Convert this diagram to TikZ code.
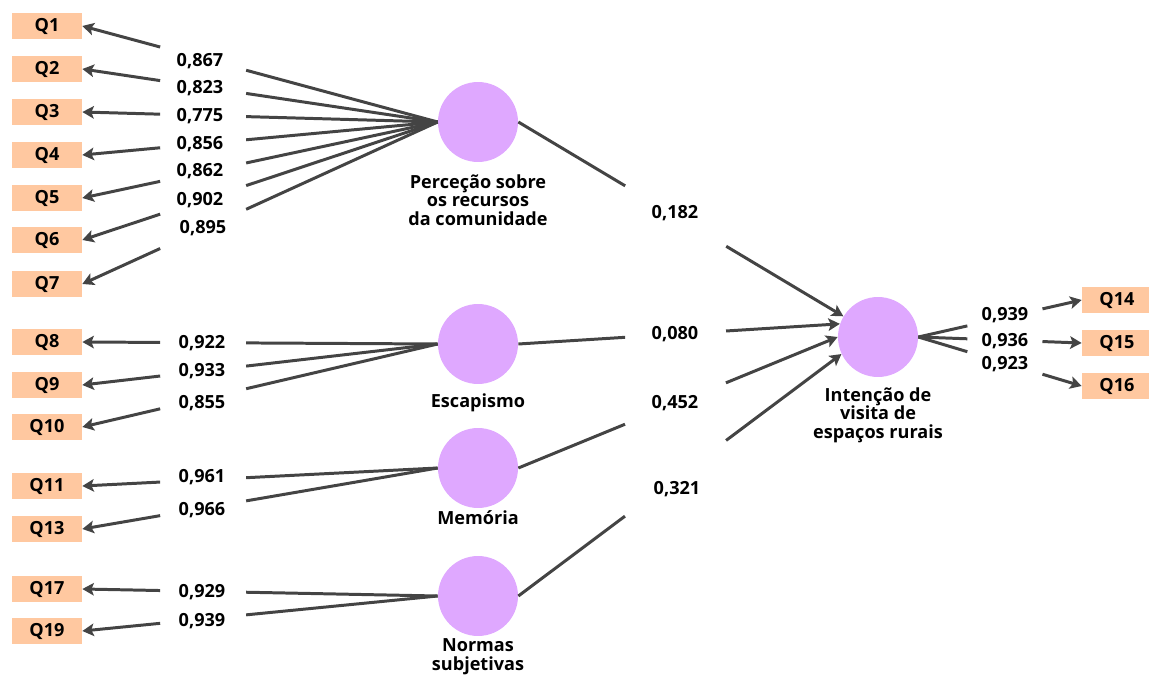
\documentclass[tikz,border=0pt]{standalone}
\usepackage{fontspec}
\setmainfont{Open Sans}
\usetikzlibrary{calc,arrows.meta}
\definecolor{itemorange}{HTML}{FFC8A0}
\definecolor{latentviolet}{HTML}{DFA8FF}
\definecolor{linegray}{HTML}{444444}

\begin{document}
\begin{tikzpicture}[x=0.02cm,y=-0.02cm,font=\bfseries\fontsize{10.3}{10.6}\selectfont]
  \tikzstyle{item}=[fill=itemorange,minimum width=1.4cm,minimum height=0.52cm,inner sep=0pt]
  \tikzstyle{latent}=[circle,fill=latentviolet,minimum size=1.6cm,inner sep=0pt]
  \tikzstyle{caption}=[align=center,inner sep=0pt]
  \tikzstyle{link}=[linegray,line width=1.7pt]
  \tikzstyle{arr}=[link,-{Stealth[length=0.23cm,width=0.25cm,inset=0.05cm]}]

  \useasboundingbox (0,0) rectangle (1149,675);

  % latent variables
  \node[latent] (P) at (478,122) {};
  \node[caption] (Pc) at (478,200) {Perceção sobre\\os recursos\\da comunidade};
  \node[latent] (E) at (478,344) {};
  \node[caption] (Ec) at (478,403) {Escapismo};
  \node[latent] (M) at (478,468) {};
  \node[caption] (Mc) at (478,518) {Memória};
  \node[latent] (N) at (478,596) {};
  \node[caption] (Nc) at (478,657) {Normas\\subjetivas};
  \node[latent] (I) at (878,337) {};
  \node[caption] (Ic) at (878,415) {Intenção de\\visita de\\espaços rurais};

  % indicators
  \node[item] (q1) at (47,26) {Q1};
  \node[item] (q2) at (47,69) {Q2};
  \node[item] (q3) at (47,112) {Q3};
  \node[item] (q4) at (47,155) {Q4};
  \node[item] (q5) at (47,198) {Q5};
  \node[item] (q6) at (47,240) {Q6};
  \node[item] (q7) at (47,284) {Q7};
  \node[item] (q8) at (47,342) {Q8};
  \node[item] (q9) at (47,385) {Q9};
  \node[item] (q10) at (47,427) {Q10};
  \node[item] (q11) at (47,486) {Q11};
  \node[item] (q13) at (47,529) {Q13};
  \node[item] (q17) at (47,589) {Q17};
  \node[item] (q19) at (47,631) {Q19};
  \node[item] (q14) at (1117,300) {Q14};
  \node[item] (q15) at (1117,343) {Q15};
  \node[item] (q16) at (1117,386) {Q16};

  % loadings
  \node (l1) at (200,61) {0,867};
  \node (l2) at (200,88) {0,823};
  \node (l3) at (200,116) {0,775};
  \node (l4) at (200,144) {0,856};
  \node (l5) at (200,171) {0,862};
  \node (l6) at (200,200) {0,902};
  \node (l7) at (203,228) {0,895};
  \node (l8) at (202,343) {0,922};
  \node (l9) at (202,371) {0,933};
  \node (l10) at (202,403) {0,855};
  \node (l11) at (202,477) {0,961};
  \node (l13) at (202,510) {0,966};
  \node (l17) at (202,592) {0,929};
  \node (l19) at (202,621) {0,939};
  \node (l14) at (1005,315) {0,939};
  \node (l15) at (1005,341) {0,936};
  \node (l16) at (1005,364) {0,923};

  % path coefficients
  \node (bP) at (675,213) {0,182};
  \node (bE) at (675,334) {0,080};
  \node (bM) at (675,403) {0,452};
  \node (bN) at (677,489) {0,321};

  % outer model, broken round the loadings
  \draw[link] (P.west) -- ($(P.west)!0.539!(q1.east)$) ($(P.west)!0.781!(q1.east)$) edge[arr] (q1.east);
  \draw[link] (P.west) -- ($(P.west)!0.539!(q2.east)$) ($(P.west)!0.781!(q2.east)$) edge[arr] (q2.east);
  \draw[link] (P.west) -- ($(P.west)!0.539!(q3.east)$) ($(P.west)!0.781!(q3.east)$) edge[arr] (q3.east);
  \draw[link] (P.west) -- ($(P.west)!0.539!(q4.east)$) ($(P.west)!0.781!(q4.east)$) edge[arr] (q4.east);
  \draw[link] (P.west) -- ($(P.west)!0.539!(q5.east)$) ($(P.west)!0.781!(q5.east)$) edge[arr] (q5.east);
  \draw[link] (P.west) -- ($(P.west)!0.539!(q6.east)$) ($(P.west)!0.781!(q6.east)$) edge[arr] (q6.east);
  \draw[link] (P.west) -- ($(P.west)!0.539!(q7.east)$) ($(P.west)!0.781!(q7.east)$) edge[arr] (q7.east);
  \draw[link] (E.west) -- ($(E.west)!0.539!(q8.east)$) ($(E.west)!0.781!(q8.east)$) edge[arr] (q8.east);
  \draw[link] (E.west) -- ($(E.west)!0.539!(q9.east)$) ($(E.west)!0.781!(q9.east)$) edge[arr] (q9.east);
  \draw[link] (E.west) -- ($(E.west)!0.539!(q10.east)$) ($(E.west)!0.781!(q10.east)$) edge[arr] (q10.east);
  \draw[link] (M.west) -- ($(M.west)!0.539!(q11.east)$) ($(M.west)!0.781!(q11.east)$) edge[arr] (q11.east);
  \draw[link] (M.west) -- ($(M.west)!0.539!(q13.east)$) ($(M.west)!0.781!(q13.east)$) edge[arr] (q13.east);
  \draw[link] (N.west) -- ($(N.west)!0.539!(q17.east)$) ($(N.west)!0.781!(q17.east)$) edge[arr] (q17.east);
  \draw[link] (N.west) -- ($(N.west)!0.539!(q19.east)$) ($(N.west)!0.781!(q19.east)$) edge[arr] (q19.east);
  \draw[link] (I.east) -- ($(I.east)!0.3!(q14.west)$) ($(I.east)!0.76!(q14.west)$) edge[arr] (q14.west);
  \draw[link] (I.east) -- ($(I.east)!0.3!(q15.west)$) ($(I.east)!0.76!(q15.west)$) edge[arr] (q15.west);
  \draw[link] (I.east) -- ($(I.east)!0.3!(q16.west)$) ($(I.east)!0.76!(q16.west)$) edge[arr] (q16.west);

  % inner model
  \draw[link] (P.east) -- ($(P.east)!0.297!(I.center)$) ($(P.east)!0.578!(I.center)$) edge[arr] (I);
  \draw[link] (E.east) -- ($(E.east)!0.332!(I.161)$) ($(E.east)!0.646!(I.161)$) edge[arr] (I.161);
  \draw[link] (M.east) -- ($(M.east)!0.334!(I.west)$) ($(M.east)!0.65!(I.west)$) edge[arr] (I.west);
  \draw[link] (N.east) -- ($(N.east)!0.33!(I.205)$) ($(N.east)!0.643!(I.205)$) edge[arr] (I.205);
\end{tikzpicture}
\end{document}
